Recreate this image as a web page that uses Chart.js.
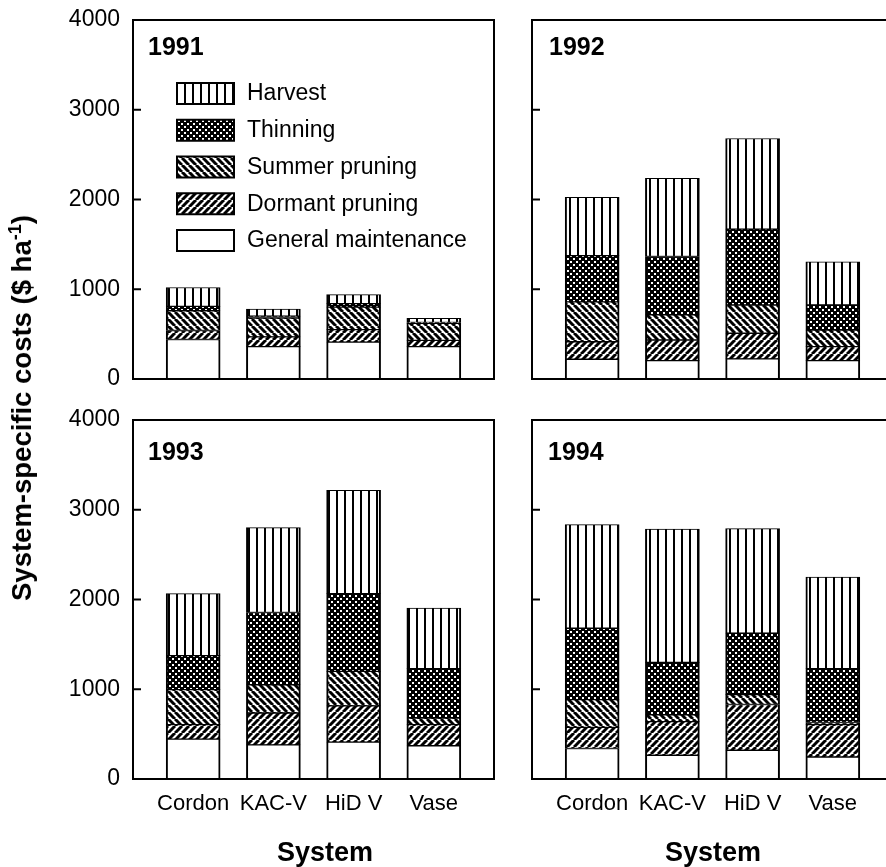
<!DOCTYPE html>
<html>
<head>
<meta charset="utf-8">
<script src="https://cdn.jsdelivr.net/npm/chart.js@4.4.1/dist/chart.umd.min.js"></script>
<style>
body { margin:0; background:#fff; width:886px; height:867px; overflow:hidden; position:relative;
       font-family:"Liberation Sans", Arial, sans-serif; color:#000; }
.panel { position:absolute; }
.panel canvas { display:block; }
#ytitle { position:absolute; left:22px; top:408px; transform:translate(-50%,-50%) rotate(-90deg);
          white-space:nowrap; font-weight:bold; font-size:27.5px; line-height:30px; }
#ytitle sup { font-size:18px; line-height:0; }
.xtitle { position:absolute; top:852px; transform:translate(-50%,-50%); font-weight:bold; font-size:27px; white-space:nowrap; }
</style>
</head>
<body>
<div class="panel" style="left:0;top:-10px"><canvas id="c1991" width="497" height="419"></canvas></div>
<div class="panel" style="left:497px;top:-10px"><canvas id="c1992" width="400" height="419"></canvas></div>
<div class="panel" style="left:0;top:390px"><canvas id="c1993" width="497" height="477"></canvas></div>
<div class="panel" style="left:497px;top:390px"><canvas id="c1994" width="400" height="477"></canvas></div>
<div id="ytitle">System-specific costs ($ ha<sup>-1</sup>)</div>
<div class="xtitle" style="left:325px">System</div>
<div class="xtitle" style="left:713px">System</div>
<script>
// System-specific costs, $ ha-1

const systems = ['Cordon', 'KAC-V', 'HiD V', 'Vase'];
const years = ['1991', '1992', '1993', '1994'];
const components = ['General maintenance', 'Dormant pruning', 'Summer pruning', 'Thinning', 'Harvest'];

// one row per year, one column per system
const general  = [[440, 360, 410, 360], [220, 205, 225, 205], [445, 380, 410, 370], [340, 265, 320, 245]];
const dormant  = [[100, 110, 140, 70],  [195, 230, 285, 155], [160, 355, 405, 235], [235, 375, 510, 360]];
const summer   = [[220, 210, 250, 190], [445, 280, 315, 185], [390, 315, 385, 75],  [310, 75, 110, 25]];
const thinning = [[50, 20, 40, 10],     [515, 650, 845, 280], [380, 805, 865, 550], [795, 585, 685, 600]];
const harvest  = [[210, 80, 100, 45],   [650, 870, 1010, 480], [690, 945, 1150, 675], [1155, 1485, 1165, 1020]];

const FONT = '"Liberation Sans", Arial, sans-serif';

// hatch fills
function makePattern(kind){
    var c = document.createElement('canvas');
    var s = kind == 'dots' ? 6 : (kind == 'vert' ? 8 : 7);
    c.width = s; c.height = s;
    var g = c.getContext('2d');
    g.fillStyle = kind == 'dots' ? '#000' : '#fff';
    g.fillRect(0, 0, s, s);
    g.fillStyle = '#000';
    g.strokeStyle = '#000';
    if (kind == 'vert'){
        g.fillRect(0, 0, 2, s);
    } else if (kind == 'dots'){
        g.fillStyle = '#fff';
        g.fillRect(1, 1, 2, 2);
        g.fillRect(4, 4, 2, 2);
    } else if (kind == 'back' || kind == 'fwd'){
        g.lineWidth = 3;
        for (let k = -1; k <= 1; k++){
            g.beginPath();
            if (kind == 'back'){
                g.moveTo(k*s, 0); g.lineTo(k*s + s, s);
            } else {
                g.moveTo(k*s, s); g.lineTo(k*s + s, 0);
            }
            g.stroke();
        }
    }
    return g.createPattern(c, 'repeat');
}

const patterns = [makePattern('none'), makePattern('fwd'), makePattern('back'), makePattern('dots'), makePattern('vert')];

const framePlugin = {
    id: 'frame',
    afterDatasetsDraw(chart, args, opts){
        const ctx = chart.ctx;
        const a = chart.chartArea;
        const y = chart.scales.y;
        ctx.save();
        ctx.strokeStyle = '#000';
        ctx.lineWidth = 2;
        ctx.strokeRect(a.left, a.top, a.right - a.left, a.bottom - a.top);
        // inward tick marks
        y.ticks.forEach(t => {
            var py = y.getPixelForValue(t.value);
            ctx.beginPath();
            ctx.moveTo(a.left, py);
            ctx.lineTo(a.left + 8, py);
            ctx.stroke();
        });
        ctx.fillStyle = '#000';
        ctx.textBaseline = 'alphabetic';
        ctx.font = 'bold 25px ' + FONT;
        ctx.fillText(opts.year, a.left + opts.dx, a.top + opts.dy);
        if (opts.legend){
            ctx.font = '23px ' + FONT;
            ctx.textBaseline = 'middle';
            for (let i = 0; i < components.length; i++){
                var k = components.length - 1 - i;
                var by = a.top + 63 + i*36.75;
                ctx.fillStyle = patterns[k];
                ctx.fillRect(a.left + 44, by, 57, 21);
                ctx.strokeRect(a.left + 44, by, 57, 21);
                ctx.fillStyle = '#000';
                ctx.fillText(components[k], a.left + 114, by + 11);
            }
        }
        ctx.restore();
    }
};

const panels = [
    {id: 'c1991', showY: true,  showX: false, yWidth: 133, pad: {left: 0, right: 3, top: 30, bottom: 30}, xHeight: 0,  dx: 15, dy: 35, legend: true},
    {id: 'c1992', showY: false, showX: false, yWidth: 35,  pad: {left: 0, right: 4, top: 30, bottom: 30}, xHeight: 0,  dx: 17, dy: 35, legend: false},
    {id: 'c1993', showY: true,  showX: true,  yWidth: 133, pad: {left: 0, right: 3, top: 30, bottom: 0},  xHeight: 88, dx: 15, dy: 40, legend: false},
    {id: 'c1994', showY: false, showX: true,  yWidth: 35,  pad: {left: 0, right: 4, top: 30, bottom: 0},  xHeight: 88, dx: 16, dy: 40, legend: false}
];

function buildDatasets(yi){
    return [general, dormant, summer, thinning, harvest].map((arr, k) => ({
        label: components[k],
        data: arr[yi].map((v, i) => ({x: i, y: v})),
        backgroundColor: patterns[k],
        borderColor: '#000',
        borderWidth: {top: 1, bottom: 1, left: 2, right: 2},
        borderSkipped: false,
        barThickness: 54
    }));
}

panels.forEach((p, yi) => {
    new Chart(document.getElementById(p.id), {
        type: 'bar',
        data: {datasets: buildDatasets(yi)},
        options: {
            responsive: false,
            animation: false,
            events: [],
            layout: {padding: p.pad},
            plugins: {
                legend: {display: false},
                tooltip: {enabled: false},
                frame: {year: years[yi], dx: p.dx, dy: p.dy, legend: p.legend}
            },
            scales: {
                x: {
                    type: 'linear',
                    stacked: true,
                    min: -0.75,
                    max: 3.75,
                    offset: false,
                    afterBuildTicks: s => { s.ticks = systems.map((_, i) => ({value: i})); },
                    afterFit: s => { s.height = p.xHeight; },
                    grid: {display: false, drawTicks: false},
                    border: {display: false},
                    ticks: {
                        display: p.showX,
                        autoSkip: false,
                        maxRotation: 0,
                        padding: 12,
                        color: '#000',
                        font: {family: FONT, size: 22},
                        callback: v => systems[v]
                    }
                },
                y: {
                    stacked: true,
                    min: 0,
                    max: 4000,
                    afterFit: s => { s.width = p.yWidth; },
                    grid: {display: false, drawTicks: false},
                    border: {display: false},
                    ticks: {
                        display: p.showY,
                        stepSize: 1000,
                        padding: 13,
                        color: '#000',
                        font: {family: FONT, size: 23},
                        callback: v => String(v)
                    }
                }
            }
        },
        plugins: [framePlugin]
    });
});
</script>
</body>
</html>
